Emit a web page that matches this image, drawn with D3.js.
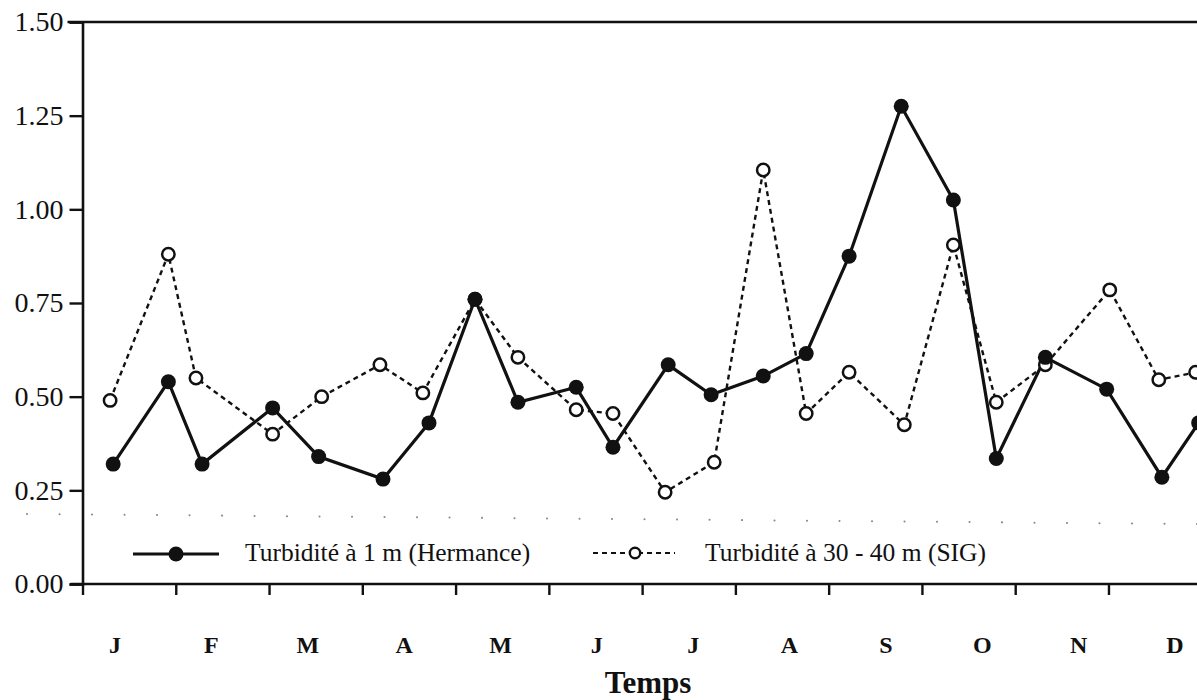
<!DOCTYPE html>
<html>
<head>
<meta charset="utf-8">
<script src="https://cdn.jsdelivr.net/npm/d3@7"></script>
<style>
  html, body { margin: 0; padding: 0; background: #fff; }
  svg { display: block; }
  text { font-family: "Liberation Serif", "Times New Roman", serif; fill: #111; }
</style>
</head>
<body>
<svg id="chart" width="1197" height="700"></svg>
<script>
// ---- data ----
const monthLabels = ["J","F","M","A","M","J","J","A","S","O","N","D"];
const yTickValues = [0, 0.25, 0.5, 0.75, 1.0, 1.25, 1.5];

// sampling day of the year (0 = 1 January)
const daysHermance = [10, 28, 39, 62, 77, 98, 113, 128, 142, 161, 173, 191, 205, 222, 236, 250, 267, 284, 298, 314, 334, 352, 364];
const turbHermance = [0.32, 0.54, 0.32, 0.47, 0.34, 0.28, 0.43, 0.76, 0.485, 0.525, 0.365, 0.585, 0.505, 0.555, 0.615, 0.875, 1.275, 1.025, 0.335, 0.605, 0.52, 0.285, 0.43];

const daysSIG = [9, 28, 37, 62, 78, 97, 111, 128, 142, 161, 173, 190, 206, 222, 236, 250, 268, 284, 298, 314, 335, 351, 363];
const turbSIG = [0.49, 0.88, 0.55, 0.40, 0.50, 0.585, 0.51, 0.76, 0.605, 0.465, 0.455, 0.245, 0.325, 1.105, 0.455, 0.565, 0.425, 0.905, 0.485, 0.585, 0.785, 0.545, 0.565];

const legendLabels = ["Turbidité à 1 m (Hermance)", "Turbidité à 30 - 40 m (SIG)"];
const xTitle = "Temps";

// ---- layout ----
const svg = d3.select("#chart");
const plotLeft = 82.5, plotTop = 22, plotBottom = 584;
const x = d3.scaleLinear().domain([0, 365]).range([plotLeft, plotLeft + 12 * 93.27]);
const y = d3.scaleLinear().domain([0, 1.5]).range([plotBottom, plotTop]);
const ink = "#111";

// faint dotted guide line (scan artefact in the original)
svg.append("line")
  .attr("x1", 27).attr("x2", 1197)
  .attr("y1", y(0.187)).attr("y2", y(0.160))
  .attr("stroke", "#8a8a8a").attr("stroke-width", 2)
  .attr("stroke-linecap", "round")
  .attr("stroke-dasharray", "0.1,32.4");

// top frame line
svg.append("line")
  .attr("x1", plotLeft - 15).attr("x2", 1197)
  .attr("y1", y(1.5)).attr("y2", y(1.5))
  .attr("stroke", ink).attr("stroke-width", 2.6);

// Y axis
const yAxis = d3.axisLeft(y).tickValues(yTickValues)
  .tickFormat(d3.format(".2f")).tickSize(13).tickPadding(6);
const gy = svg.append("g").attr("transform", `translate(${plotLeft},0)`).call(yAxis);
gy.select(".domain").attr("stroke", ink).attr("stroke-width", 2.6);
gy.selectAll(".tick line").attr("stroke", ink).attr("stroke-width", 2.4);
gy.selectAll(".tick text")
  .attr("font-family", "Liberation Serif, serif")
  .attr("font-size", 28).attr("fill", ink);

// X axis (month boundaries)
const xTicks = d3.range(13).map(i => i * 365 / 12);
const xAxis = d3.axisBottom(x).tickValues(xTicks).tickFormat("").tickSize(11).tickSizeOuter(0);
const gx = svg.append("g").attr("transform", `translate(0,${plotBottom})`).call(xAxis);
gx.select(".domain").remove();
gx.selectAll(".tick line").attr("stroke", ink).attr("stroke-width", 2.4);
svg.append("line")
  .attr("x1", plotLeft - 12).attr("x2", 1197)
  .attr("y1", plotBottom).attr("y2", plotBottom)
  .attr("stroke", ink).attr("stroke-width", 2.6);

// month labels
const xm = d3.scalePoint().domain(d3.range(12)).range([115, 1175]);
svg.append("g").selectAll("text").data(monthLabels).join("text")
  .attr("x", (d, i) => xm(i)).attr("y", 653)
  .attr("text-anchor", "middle")
  .attr("font-weight", "bold").attr("font-size", 24)
  .text(d => d);

svg.append("text")
  .attr("x", 648).attr("y", 693)
  .attr("text-anchor", "middle")
  .attr("font-weight", "bold").attr("font-size", 31)
  .text(xTitle);

// series
const sig = daysSIG.map((d, i) => ({ d, v: turbSIG[i] }));
const her = daysHermance.map((d, i) => ({ d, v: turbHermance[i] }));
const line = d3.line().x(p => x(p.d)).y(p => y(p.v));

svg.append("path").datum(sig).attr("d", line)
  .attr("fill", "none").attr("stroke", ink).attr("stroke-width", 2.4)
  .attr("stroke-dasharray", "5,4");
svg.append("path").datum(her).attr("d", line)
  .attr("fill", "none").attr("stroke", ink).attr("stroke-width", 3.2);

svg.append("g").selectAll("circle").data(sig).join("circle")
  .attr("cx", p => x(p.d)).attr("cy", p => y(p.v)).attr("r", 6.2)
  .attr("fill", "#fff").attr("stroke", ink).attr("stroke-width", 2.5);
svg.append("g").selectAll("circle").data(her).join("circle")
  .attr("cx", p => x(p.d)).attr("cy", p => y(p.v)).attr("r", 7.5)
  .attr("fill", ink);

// legend
const lg = svg.append("g");
lg.append("line").attr("x1", 133).attr("x2", 219).attr("y1", 554).attr("y2", 554)
  .attr("stroke", ink).attr("stroke-width", 3.2);
lg.append("circle").attr("cx", 176).attr("cy", 554).attr("r", 7.5).attr("fill", ink);
lg.append("text").attr("x", 245).attr("y", 561).attr("font-size", 25.5).text(legendLabels[0]);

lg.append("line").attr("x1", 593).attr("x2", 675).attr("y1", 553).attr("y2", 553)
  .attr("stroke", ink).attr("stroke-width", 2.2).attr("stroke-dasharray", "5,4");
lg.append("circle").attr("cx", 635).attr("cy", 553).attr("r", 5.2)
  .attr("fill", "#fff").attr("stroke", ink).attr("stroke-width", 2.4);
lg.append("text").attr("x", 705).attr("y", 561).attr("font-size", 25.5).text(legendLabels[1]);
</script>
</body>
</html>
